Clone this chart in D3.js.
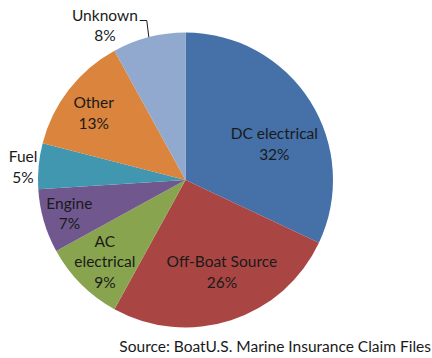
<!DOCTYPE html>
<html>
<head>
<meta charset="utf-8">
<script src="https://cdn.jsdelivr.net/npm/d3@7/dist/d3.min.js"></script>
<style>
  html, body { margin: 0; padding: 0; background: #fff; }
  svg { display: block; }
  text { font-family: Lato, "Open Sans", sans-serif; fill: #1a1a1a; }
</style>
</head>
<body>
<svg id="chart" width="432" height="358"></svg>
<script>
// ---- data ----
const categories = ["DC electrical", "Off-Boat Source", "AC electrical", "Engine", "Fuel", "Other", "Unknown"];
const values = [32, 26, 9, 7, 5, 13, 8];
const labelLines = [["DC electrical"], ["Off-Boat Source"], ["AC", "electrical"], ["Engine"], ["Fuel"], ["Other"], ["Unknown"]];
const sourceNote = "Source: BoatU.S. Marine Insurance Claim Files";

// ---- styles / layout ----
const colors = ["#4570A8", "#A94643", "#88A44E", "#70588F", "#4197AF", "#DA843D", "#91A9CE"];
// label placement: [radius factor, angle shift in degrees]
const labelPlace = [[0.65, 10.3], [0.67, -3.6], [0.78, -0.5], [0.82, 0], [1.105, -0.8], [0.77, -1.8], [1.18, -13.2]];
const W = 432, H = 358, cx = 185.5, cy = 180, R = 147.5;
const fontSize = 15.5, lineH = 20.5;

const svg = d3.select("#chart");
svg.append("rect").attr("width", W).attr("height", H).attr("fill", "#fff");
const g = svg.append("g").attr("transform", `translate(${cx},${cy})`);

const data = categories.map((c, i) => ({ name: c, value: values[i], i }));
const pie = d3.pie().value(d => d.value).sort(null);
const arcs = pie(data);
const arc = d3.arc().innerRadius(0).outerRadius(R);

g.selectAll("path.slice").data(arcs).enter().append("path")
  .attr("class", "slice")
  .attr("d", arc)
  .attr("fill", d => colors[d.data.i]);

const pctFmt = v => Math.round(v / d3.sum(values) * 100) + "%";

arcs.forEach(d => {
  const i = d.data.i;
  const [rf, shift] = labelPlace[i];
  const ang = (d.startAngle + d.endAngle) / 2 + shift * Math.PI / 180;
  const r = R * rf;
  const x = r * Math.sin(ang), y = -r * Math.cos(ang);
  const lines = labelLines[i].concat([pctFmt(d.value)]);
  const n = lines.length;
  const t = g.append("text")
    .attr("text-anchor", "middle")
    .attr("font-size", fontSize);
  lines.forEach((ln, k) => {
    t.append("tspan")
      .attr("x", x)
      .attr("y", y + (k - (n - 1) / 2) * lineH)
      .attr("dy", "0.35em")
      .text(ln);
  });
  if (categories[i] === "Unknown") {
    const first = t.select("tspan").node();
    const w = first.getComputedTextLength();
    const y0 = y - (n - 1) / 2 * lineH + 5;
    const x0 = x + w / 2 + 2;
    const mid = (d.startAngle + d.endAngle) / 2;
    const ex = R * Math.sin(mid), ey = -R * Math.cos(mid);
    g.append("path")
      .attr("d", `M${x0},${y0} L${x0 + 7},${y0} L${ex},${ey}`)
      .attr("fill", "none")
      .attr("stroke", "#1a1a1a")
      .attr("stroke-width", 1);
  }
});

svg.append("text")
  .attr("x", 431)
  .attr("y", 347)
  .attr("dy", "0.35em")
  .attr("text-anchor", "end")
  .attr("font-size", fontSize)
  .text(sourceNote);
</script>
</body>
</html>
